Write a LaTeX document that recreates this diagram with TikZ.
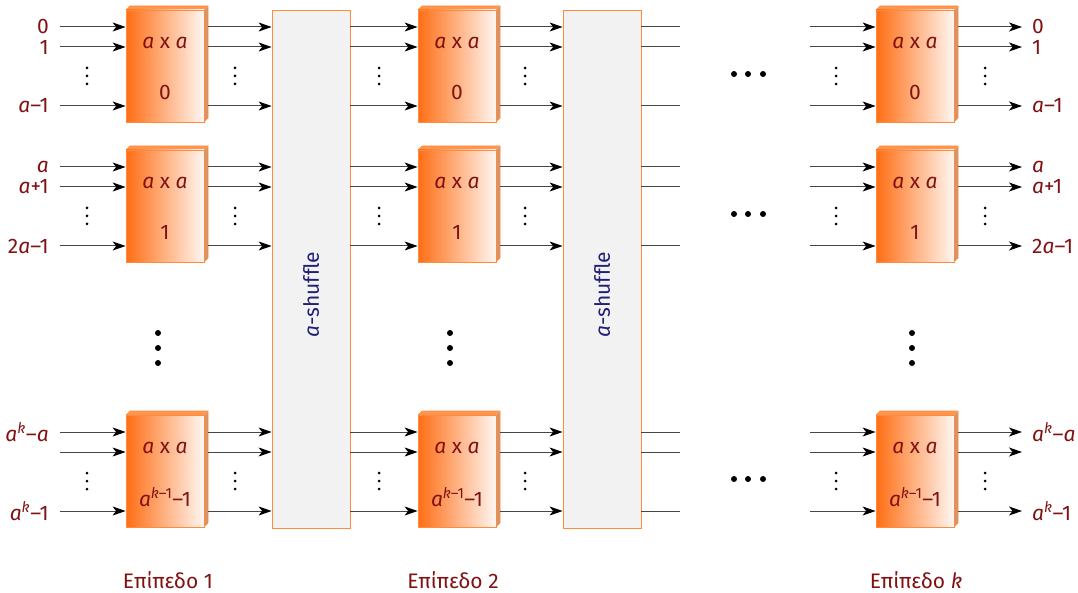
\documentclass[tikz,border=0pt]{standalone}
\usepackage{fontspec}
\setmainfont{Fira Sans}
\usetikzlibrary{arrows.meta,calc}
\definecolor{lblc}{RGB}{128,18,18}
\definecolor{shfc}{RGB}{32,32,120}
\definecolor{org}{RGB}{255,110,20}
\definecolor{orgb}{RGB}{255,140,60}
\definecolor{sidec}{RGB}{210,150,110}
\definecolor{topc}{RGB}{255,150,80}
\definecolor{shfill}{RGB}{242,242,242}
\definecolor{linec}{RGB}{70,70,70}
\newcommand\ia{{\itshape a}}
\newcommand\ik{{\itshape k}}
\tikzset{
  cell/.style={draw=orgb, line width=0.8pt, minimum width=78pt, minimum height=112pt, inner sep=0pt, left color=org, right color=org!6},
  shufbox/.style={draw=orgb, line width=0.8pt, fill=shfill, minimum width=78pt, minimum height=518pt, inner sep=0pt},
  arr/.style={draw=linec, line width=1pt, -{Stealth[length=13pt,width=9pt,inset=3.5pt,black]}},
  ln/.style={draw=linec, line width=1pt},
  lbl/.style={text=lblc, inner sep=0pt},
  sdot/.style={fill=black},
}
\begin{document}
\begin{tikzpicture}[x=1pt,y=-1pt,font=\fontsize{21}{25}\selectfont]
\useasboundingbox (0,0) rectangle (1078,593);

% shuffle boxes
\node[shufbox] (s1) at (311,269) {};
\node[shufbox] (s2) at (602,269) {};
\node[text=shfc, rotate=90, inner sep=0pt] (s1t) at (311,295) {\ia-shuffle};
\node[text=shfc, rotate=90, inner sep=0pt] (s2t) at (602,295) {\ia-shuffle};

% cells
\foreach \L/\cx in {1/165,2/457,3/915}{
  \foreach \r/\c/\nb in {0/66/0, 1/206/1, 2/471/{\ia\textsuperscript{\ik–1}–1}}{
    \fill[sidec] ($(\cx,\c)+(39,-56)$) -- ++(4,-4) -- ++(0,112) -- ++(-4,4) -- cycle;
    \fill[topc] ($(\cx,\c)+(-39,-56)$) -- ++(4,-4) -- ++(78,0) -- ++(-4,4) -- cycle;
    \draw[orgb, line width=0.6pt] ($(\cx,\c)+(-39,-56)$) -- ++(4,-4) -- ++(78,0) -- ++(0,112) -- ++(-4,4);
    \node[cell] (b\L-\r) at (\cx,\c) {};
    \node[lbl] (t\L-\r) at (\cx,\c-23) {\ia{} x \ia};
    \node[lbl] (n\L-\r) at (\cx,\c+26) {\nb};
    % line endpoints
    \foreach \j/\dy in {1/-39,2/-19,3/40}{
      \coordinate (o\L-\r-\j) at (\cx+43,\c+\dy);
    }
  }
}

% inputs / outputs with labels
\foreach \r/\c/\la/\lb/\lc in {0/66/0/1/{\ia–1}, 1/206/{\ia}/{\ia+1}/{2\ia–1}, 2/471/{\ia\textsuperscript{\ik}–\ia}/{}/{\ia\textsuperscript{\ik}–1}}{
  \node[lbl, anchor=east] (il-\r-1) at (49,\c-39) {\la};
  \node[lbl, anchor=east] (il-\r-2) at (49,\c-19) {\lb};
  \node[lbl, anchor=east] (il-\r-3) at (49,\c+40) {\lc};
  \node[lbl, anchor=west] (ol-\r-1) at (1032,\c-39) {\la};
  \node[lbl, anchor=west] (ol-\r-2) at (1032,\c-19) {\lb};
  \node[lbl, anchor=west] (ol-\r-3) at (1032,\c+40) {\lc};
  \foreach \j/\dy in {1/-39,2/-19,3/40}{
    \coordinate (a-\r-\j) at (60,\c+\dy);
    \coordinate (c-\r-\j) at (810,\c+\dy);
    \coordinate (e-\r-\j) at (680,\c+\dy);
    \coordinate (f-\r-\j) at (1022,\c+\dy);
    \draw[arr] (a-\r-\j) -- (a-\r-\j -| b1-\r.west);
    \draw[arr] (o1-\r-\j) -- (o1-\r-\j -| s1.west);
    \draw[arr] (o1-\r-\j -| s1.east) -- (o1-\r-\j -| b2-\r.west);
    \draw[arr] (o2-\r-\j) -- (o2-\r-\j -| s2.west);
    \draw[ln] (o2-\r-\j -| s2.east) -- (e-\r-\j);
    \draw[arr] (c-\r-\j) -- (c-\r-\j -| b3-\r.west);
    \draw[arr] (o3-\r-\j) -- (f-\r-\j);
  }
  % small vertical dots
  \foreach \x in {87,235,379,525,836,985}{
    \foreach \dy in {-8,0,8}{
      \fill[sdot] (\x,\c+10+\dy) circle (1.5pt);
    }
  }
  % horizontal dots
  \foreach \x in {734,748,763}{
    \fill[sdot] (\x,\c+8) circle (3pt);
  }
}

% big vertical dots
\foreach \x in {158,450,912}{
  \foreach \y in {333,348,363}{
    \fill[sdot] (\x,\y) circle (3pt);
  }
}

% level labels
\node[lbl] (lv1) at (168,580) {Επίπεδο 1};
\node[lbl] (lv2) at (453,580) {Επίπεδο 2};
\node[lbl] (lvk) at (916,580) {Επίπεδο \ik};
\end{tikzpicture}
\end{document}
